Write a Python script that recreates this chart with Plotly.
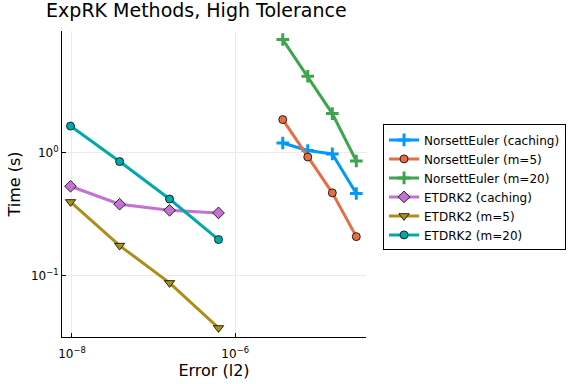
import plotly.graph_objects as go

x_norsett = [3.83e-6, 7.75e-6, 1.55e-5, 3.05e-5]
x_etdrk = [0.96e-8, 3.84e-8, 1.57e-7, 6.25e-7]

norsett_caching = [1.196, 1.04, 0.975, 0.465]
norsett_m5 = [1.85, 0.921, 0.471, 0.208]
norsett_m20 = [8.25, 4.16, 2.07, 0.855]
etdrk2_caching = [0.533, 0.381, 0.340, 0.324]
etdrk2_m5 = [0.398, 0.176, 0.0877, 0.0378]
etdrk2_m20 = [1.64, 0.845, 0.42, 0.197]

series = [
    ("NorsettEuler (caching)", x_norsett, norsett_caching, "#009AFA", "cross-thin", 9),
    ("NorsettEuler (m=5)", x_norsett, norsett_m5, "#E36F47", "circle", 8),
    ("NorsettEuler (m=20)", x_norsett, norsett_m20, "#3EA44E", "cross-thin", 9),
    ("ETDRK2 (caching)", x_etdrk, etdrk2_caching, "#C371D2", "diamond", 9),
    ("ETDRK2 (m=5)", x_etdrk, etdrk2_m5, "#AC8E18", "triangle-down", 9),
    ("ETDRK2 (m=20)", x_etdrk, etdrk2_m20, "#00A9AD", "circle", 8),
]

fig = go.Figure()
for name, xs, ys, color, sym, size in series:
    if sym == "cross-thin":
        mline = dict(color=color, width=3)
    else:
        mline = dict(color="black", width=0.8)
    fig.add_trace(go.Scatter(
        x=xs, y=ys, name=name, mode="lines+markers",
        line=dict(color=color, width=3),
        marker=dict(symbol=sym, size=size, color=color, line=mline),
    ))

font = "DejaVu Sans"
fig.update_layout(
    width=576, height=384,
    plot_bgcolor="white", paper_bgcolor="white",
    margin=dict(l=62, r=210, t=31, b=47, autoexpand=False),
    font=dict(family=font, color="black"),
    title=dict(text="ExpRK Methods, High Tolerance", x=0.08, xanchor="left",
               yref="container", y=0.99, yanchor="top",
               font=dict(size=19, family=font)),
    legend=dict(xref="container", yref="container", x=0.665, y=0.512,
                xanchor="left", yanchor="middle",
                bordercolor="black", borderwidth=1, bgcolor="white",
                font=dict(size=12, family=font), tracegroupgap=0),
    xaxis=dict(type="log", range=[-8.122, -4.397], automargin=False,
               tickvals=[1e-8, 1e-6],
               ticktext=["10<sup>\u22128</sup>", "10<sup>\u22126</sup>"],
               showgrid=True, gridcolor="#EBEBEB", gridwidth=1,
               showline=True, linecolor="black", linewidth=1,
               ticks="inside", ticklen=4, tickcolor="black",
               ticklabelstandoff=6,
               zeroline=False, tickfont=dict(size=12),
               title=dict(text="Error (l2)", font=dict(size=16), standoff=4)),
    yaxis=dict(type="log", range=[-1.496, 0.986], automargin=False,
               tickvals=[0.1, 1],
               ticktext=["10<sup>\u22121</sup>", "10<sup>0</sup>"],
               showgrid=True, gridcolor="#EBEBEB", gridwidth=1,
               showline=True, linecolor="black", linewidth=1,
               ticks="inside", ticklen=4, tickcolor="black",
               zeroline=False, tickfont=dict(size=12),
               title=dict(text="Time (s)", font=dict(size=16), standoff=6)),
)

fig.write_html("out.html", config={"displayModeBar": False},
               post_script="document.body.style.margin='0px';")
